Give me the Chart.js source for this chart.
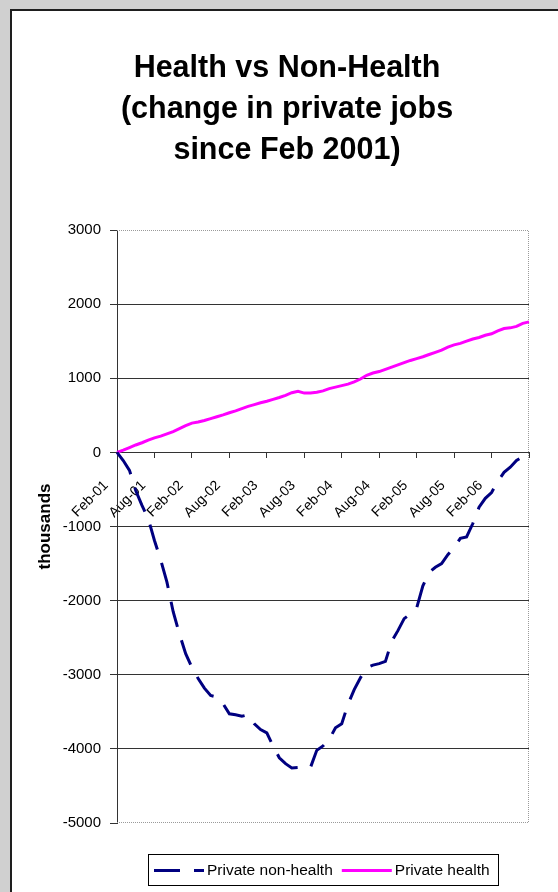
<!DOCTYPE html>
<html>
<head>
<meta charset="utf-8">
<script src="https://cdn.jsdelivr.net/npm/chart.js@4.4.0/dist/chart.umd.min.js"></script>
<style>
    html, body { margin: 0; padding: 0; background: #d0d0d0; width: 558px; height: 892px; overflow: hidden; }
    #frame { position: absolute; left: 10px; top: 9px; width: 548px; height: 883px; background: #fff;
             border-left: 2px solid #1e1e1e; border-top: 2px solid #1e1e1e; box-sizing: border-box; }
    #wrap { position: relative; width: 546px; height: 881px; }
</style>
</head>
<body>
<div id="frame"><div id="wrap"><canvas id="Chart"></canvas></div></div>
<script>
const FONT = "'Liberation Sans', Arial, sans-serif";

// monthly categories, Feb 2001 .. Aug 2006
const months = [
    'Feb-01','Mar-01','Apr-01','May-01','Jun-01','Jul-01','Aug-01','Sep-01','Oct-01','Nov-01','Dec-01','Jan-02',
    'Feb-02','Mar-02','Apr-02','May-02','Jun-02','Jul-02','Aug-02','Sep-02','Oct-02','Nov-02','Dec-02','Jan-03',
    'Feb-03','Mar-03','Apr-03','May-03','Jun-03','Jul-03','Aug-03','Sep-03','Oct-03','Nov-03','Dec-03','Jan-04',
    'Feb-04','Mar-04','Apr-04','May-04','Jun-04','Jul-04','Aug-04','Sep-04','Oct-04','Nov-04','Dec-04','Jan-05',
    'Feb-05','Mar-05','Apr-05','May-05','Jun-05','Jul-05','Aug-05','Sep-05','Oct-05','Nov-05','Dec-05','Jan-06',
    'Feb-06','Mar-06','Apr-06','May-06','Jun-06','Jul-06','Aug-06'
];

// change since Feb 2001, thousands
const nonHealth = [
    0, -110, -243, -514, -716, -892, -1189, -1450, -1750, -2150, -2450, -2716,
    -2900, -3050, -3180, -3280, -3300, -3392, -3527, -3540, -3560, -3540, -3662, -3740,
    -3784, -3960, -4120, -4200, -4257, -4250, -4255, -4250, -4020, -3960, -3870, -3716,
    -3660, -3400, -3200, -3040, -2905, -2870, -2850, -2820, -2550, -2405, -2243, -2180,
    -2100, -1800, -1620, -1550, -1500, -1380, -1284, -1160, -1140, -960, -740, -620,
    -541, -390, -270, -200, -110, -60, 30
];

const health = [
    0, 30, 65, 100, 130, 165, 195, 220, 250, 280, 320, 360,
    395, 410, 430, 455, 480, 505, 535, 560, 590, 620, 645, 670,
    690, 715, 740, 770, 805, 825, 800, 800, 810, 830, 860, 880,
    900, 920, 950, 990, 1040, 1070, 1090, 1120, 1150, 1180, 1210, 1240,
    1265, 1290, 1320, 1350, 1380, 1420, 1450, 1470, 1500, 1530, 1550, 1580,
    1600, 1640, 1670, 1680, 1700, 1740, 1760
];

const seriesNames = ['Private non-health', 'Private health'];
const titleLines = ['Health vs Non-Health', '(change in private jobs', 'since Feb 2001)'];

// dotted grey frame round the plot area (top, right, bottom)
const plotFrame = {
    id: 'plotFrame',
    beforeDatasetsDraw(chart) {
        const {ctx, chartArea: a} = chart;
        ctx.save();
        ctx.strokeStyle = '#9a9a9a';
        ctx.lineWidth = 1;
        ctx.setLineDash([1, 1]);
        ctx.beginPath();
        ctx.moveTo(a.left, Math.round(a.top) + 0.5);
        ctx.lineTo(Math.round(a.right) - 0.5, Math.round(a.top) + 0.5);
        ctx.lineTo(Math.round(a.right) - 0.5, Math.round(a.bottom) - 0.5);
        ctx.lineTo(a.left, Math.round(a.bottom) - 0.5);
        ctx.stroke();
        ctx.restore();
    }
};

// boxed legend under the plot, excel style
const boxLegend = {
    id: 'boxLegend',
    afterDraw(chart) {
        const {ctx, chartArea: a} = chart;
        const items = chart.data.datasets;
        const sample = 50;
        ctx.save();
        ctx.font = '15.5px ' + FONT;
        let w = 6;
        items.forEach((ds, i) => {
            w += sample + 3 + ctx.measureText(ds.label).width + (i < items.length - 1 ? 9 : 8);
        });
        const x0 = Math.round((a.left + a.right) / 2 - w / 2);
        const y0 = Math.round(a.bottom) + 31;
        const h = 31;
        ctx.strokeStyle = '#000';
        ctx.lineWidth = 1;
        ctx.strokeRect(x0 + 0.5, y0 + 0.5, Math.round(w), h);
        let x = x0 + 6;
        const cy = y0 + h / 2 + 1;
        items.forEach((ds) => {
            ctx.strokeStyle = ds.borderColor;
            ctx.lineWidth = ds.borderWidth;
            ctx.setLineDash(ds.borderDash || []);
            ctx.beginPath();
            ctx.moveTo(x, cy);
            ctx.lineTo(x + sample, cy);
            ctx.stroke();
            ctx.setLineDash([]);
            x += sample + 3;
            ctx.fillStyle = '#000';
            ctx.textBaseline = 'middle';
            ctx.textAlign = 'left';
            ctx.fillText(ds.label, x, cy);
            x += ctx.measureText(ds.label).width + 9;
        });
        ctx.restore();
    }
};

const chartData = {
    labels: months,
    datasets: [
        {
            label: seriesNames[0],
            data: nonHealth,
            borderColor: '#000080',
            borderWidth: 3,
            borderDash: [26, 14],
            pointRadius: 0,
            tension: 0,
            fill: false
        },
        {
            label: seriesNames[1],
            data: health,
            borderColor: '#ff00ff',
            borderWidth: 3,
            pointRadius: 0,
            tension: 0,
            fill: false
        }
    ]
};

new Chart(document.getElementById('Chart').getContext('2d'), {
    type: 'line',
    data: chartData,
    plugins: [plotFrame, boxLegend],
    options: {
        animation: false,
        responsive: true,
        maintainAspectRatio: false,
        devicePixelRatio: 1,
        // left/right padding kept nearly equal so the title centres like the original
        layout: { padding: { left: 33, right: 29, top: 0, bottom: 69 } },
        plugins: {
            legend: { display: false },
            tooltip: { enabled: false },
            title: {
                display: true,
                text: titleLines,
                color: '#000',
                font: { family: FONT, size: 30.5, weight: 'bold', lineHeight: 41 / 30.5 },
                padding: { top: 37, bottom: 59 }
            }
        },
        scales: {
            x: {
                type: 'category',
                position: { y: 0 },
                offset: false,
                grid: {
                    drawOnChartArea: false,
                    tickLength: 5,
                    tickColor: (c) => (c.index % 6 === 0 ? '#333' : 'rgba(0,0,0,0)')
                },
                border: { color: '#333', width: 1 },
                ticks: {
                    autoSkip: false,
                    maxRotation: 45,
                    minRotation: 45,
                    padding: 20,
                    labelOffset: -11,
                    color: '#000',
                    font: { family: FONT, size: 14 },
                    callback: (v, i) => (i % 6 === 0 && i < months.length - 1 ? months[i] : '')
                },
                // rotated labels would otherwise pull the plot in from the right
                afterFit: (s) => { s.paddingLeft = 0; s.paddingRight = 0; }
            },
            y: {
                min: -5000,
                max: 3000,
                grid: {
                    color: (c) => (c.tick && (c.tick.value === 3000 || c.tick.value === -5000) ? 'rgba(0,0,0,0)' : '#333'),
                    tickColor: '#333',
                    tickLength: 7,
                    lineWidth: 1
                },
                border: { color: '#333', width: 1 },
                ticks: {
                    stepSize: 1000,
                    padding: 9,
                    color: '#000',
                    font: { family: FONT, size: 15 },
                    callback: (v) => String(v)
                },
                title: {
                    display: true,
                    text: 'thousands',
                    color: '#000',
                    font: { family: FONT, size: 17, weight: 'bold' },
                    padding: { top: -10.2, bottom: 0 }
                },
                afterFit: (s) => { s.width = 72; }
            }
        }
    }
});
</script>
</body>
</html>
